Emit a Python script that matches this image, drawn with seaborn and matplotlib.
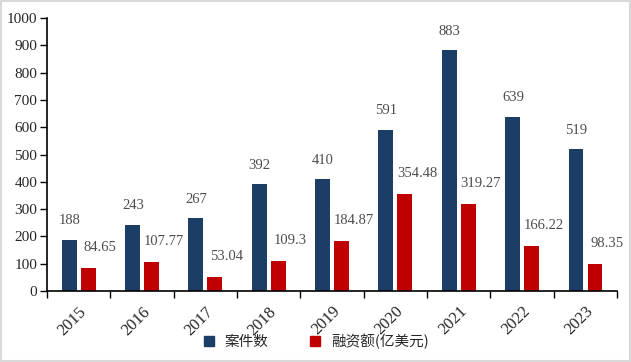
import matplotlib
matplotlib.use("Agg")
import matplotlib.pyplot as plt
from matplotlib.lines import Line2D
from matplotlib.patches import Rectangle
import numpy as np
import pandas as pd
import seaborn as sns

# data
years = ["2015", "2016", "2017", "2018", "2019", "2020", "2021", "2022", "2023"]
deal_counts = [188, 243, 267, 392, 410, 591, 883, 639, 519]
funding = [84.65, 107.77, 53.04, 109.3, 184.87, 354.48, 319.27, 166.22, 98.35]
series_names = ["案件数", "融资额(亿美元)"]
funding_text = ["84.65", "107.77", "53.04", "109.3", "184.87", "354.48", "319.27", "166.22", "98.35"]

NAVY = "#1B3D66"
RED = "#C00000"
LABEL_GRAY = "#4D4D4D"

df = pd.DataFrame({
    "year": years * 2,
    "series": [series_names[0]] * len(years) + [series_names[1]] * len(years),
    "value": deal_counts + funding,
})

sns.set_style("white")
plt.rcParams["font.family"] = ["Liberation Serif", "DejaVu Serif"]

fig = plt.figure(figsize=(6.31, 3.62), dpi=100)
ax = fig.add_axes([0.0745, 0.196, 0.9035, 0.754])

sns.barplot(data=df, x="year", y="value", hue="series", palette=[NAVY, RED],
            width=0.6, gap=0.22, ax=ax, legend=False, saturation=1, linewidth=0)

ax.set_ylim(0, 1000)
ax.set_xlim(-0.5, len(years) - 0.5)
ax.set_yticks(np.arange(0, 1001, 100))
ax.set_xlabel("")
ax.set_ylabel("")
sns.despine(ax=ax)
for side in ["left", "bottom"]:
    ax.spines[side].set_color("black")
    ax.spines[side].set_linewidth(1.2)

ax.tick_params(axis="y", direction="out", length=5, width=1, color="black",
               labelsize=11, pad=2, left=True)
ax.tick_params(axis="x", which="major", length=0, labelsize=12, pad=9)
ax.set_xticks(np.arange(-0.5, len(years)), minor=True)
ax.tick_params(axis="x", which="minor", direction="out", length=5, width=1,
               color="black", bottom=True)
for lbl in ax.get_xticklabels():
    lbl.set_rotation(45)
    lbl.set_ha("right")
    lbl.set_va("top")
    lbl.set_rotation_mode("anchor")

# value labels
for i, v in enumerate(deal_counts):
    ax.annotate(str(v), (i - 0.145, v), xytext=(0, 9), textcoords="offset points",
                ha="center", va="bottom", fontsize=10.5, color=LABEL_GRAY)
for i, v in enumerate(funding):
    ax.annotate(funding_text[i], (i + 0.145, v), xytext=(9, 10), textcoords="offset points",
                ha="center", va="bottom", fontsize=10.5, color=LABEL_GRAY)

handles = [Line2D([], [], marker="s", linestyle="none", markersize=7, color=c)
           for c in [NAVY, RED]]
fig.legend(handles, series_names, loc="center", bbox_to_anchor=(0.494, 0.057),
           ncol=2, frameon=False, handletextpad=0.1, columnspacing=2.2,
           prop={"family": ["Noto Sans CJK SC", "DejaVu Sans"], "size": 10.5})

fig.patches.append(Rectangle((0.001, 0.002), 0.997, 0.995, transform=fig.transFigure,
                             fill=False, edgecolor="#D9D9D9", linewidth=1.5))

fig.savefig("out.png", dpi=100)
